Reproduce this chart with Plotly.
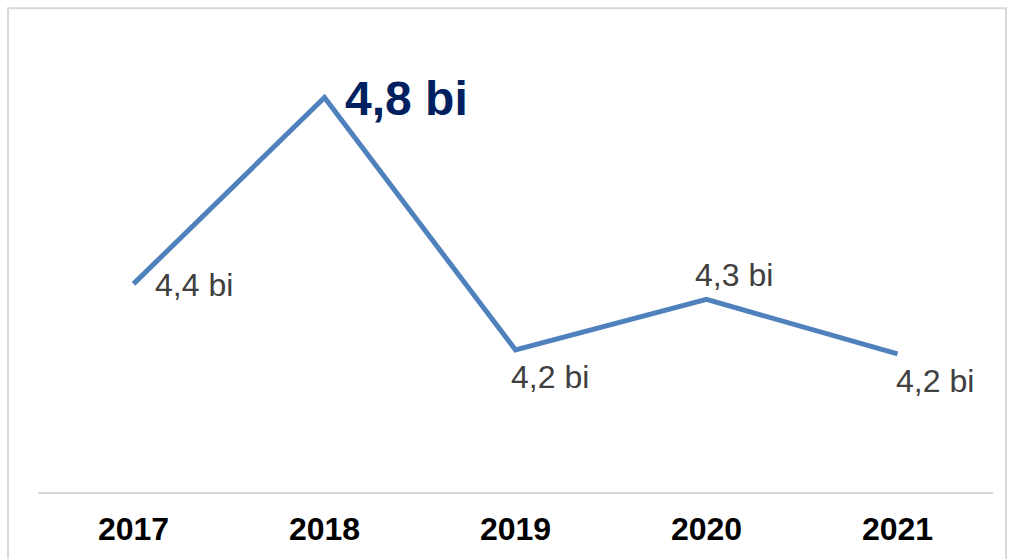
import plotly.graph_objects as go

years = ["2017", "2018", "2019", "2020", "2021"]
values = [4.36, 4.84, 4.19, 4.32, 4.18]  # bilhões
highlight_year = "2018"

# label placement per point: (xanchor, yanchor, xshift, yshift)
label_pos = {
    "2017": ("left", "middle", 19, -1),
    "2018": ("left", "middle", 18, -1),
    "2019": ("center", "top", 34, -7),
    "2020": ("center", "bottom", 27, 4),
    "2021": ("center", "top", 37, -7),
}

def fmt(v):
    return f"{v:.1f}".replace(".", ",") + " bi"

LINE_COLOR = "#4F81BD"
GRID_GRAY = "#D9D9D9"
FONT = "Liberation Sans, Arial, sans-serif"

fig = go.Figure()
fig.add_trace(go.Scatter(
    x=years, y=values, mode="lines",
    line=dict(color=LINE_COLOR, width=5),
    hoverinfo="skip", showlegend=False,
))

annotations = []
for i, (yr, v) in enumerate(zip(years, values)):
    xa, ya, xs, ys = label_pos[yr]
    if yr == highlight_year:
        font = dict(family=FONT, size=48, color="#002060")
        text = f"<b>{fmt(v)}</b>"
    else:
        font = dict(family=FONT, size=32, color="#404040")
        text = fmt(v)
    annotations.append(dict(
        x=i, y=v, xref="x", yref="y", text=text, showarrow=False,
        xanchor=xa, yanchor=ya, xshift=xs, yshift=ys, font=font,
    ))

# outer chart frame
W, H = 1009, 559
ml, mr, mt, mb = 38, 16, 37, 63
pw, ph = W - ml - mr, H - mt - mb
def px_to_paper_x(px):
    return (px - ml) / pw
def px_to_paper_y(py):
    return (H - mb - py) / ph

fig.add_shape(
    type="rect", xref="paper", yref="paper",
    x0=px_to_paper_x(8), x1=px_to_paper_x(1006),
    y0=px_to_paper_y(575), y1=px_to_paper_y(8),
    line=dict(color=GRID_GRAY, width=2), fillcolor="rgba(0,0,0,0)", layer="below",
)

fig.update_layout(
    width=W, height=H,
    margin=dict(l=ml, r=mr, t=mt, b=mb),
    paper_bgcolor="white", plot_bgcolor="white",
    annotations=annotations,
    xaxis=dict(
        type="category", range=[-0.5, 4.5],
        showgrid=False, zeroline=False,
        showline=True, linecolor=GRID_GRAY, linewidth=2,
        ticks="", ticklabelstandoff=8,
        tickfont=dict(family=FONT, size=32, color="#000000", weight="bold"),
    ),
    yaxis=dict(
        range=[3.824, 4.996], visible=False, showgrid=False, zeroline=False,
    ),
)

fig.write_html("out.html")
